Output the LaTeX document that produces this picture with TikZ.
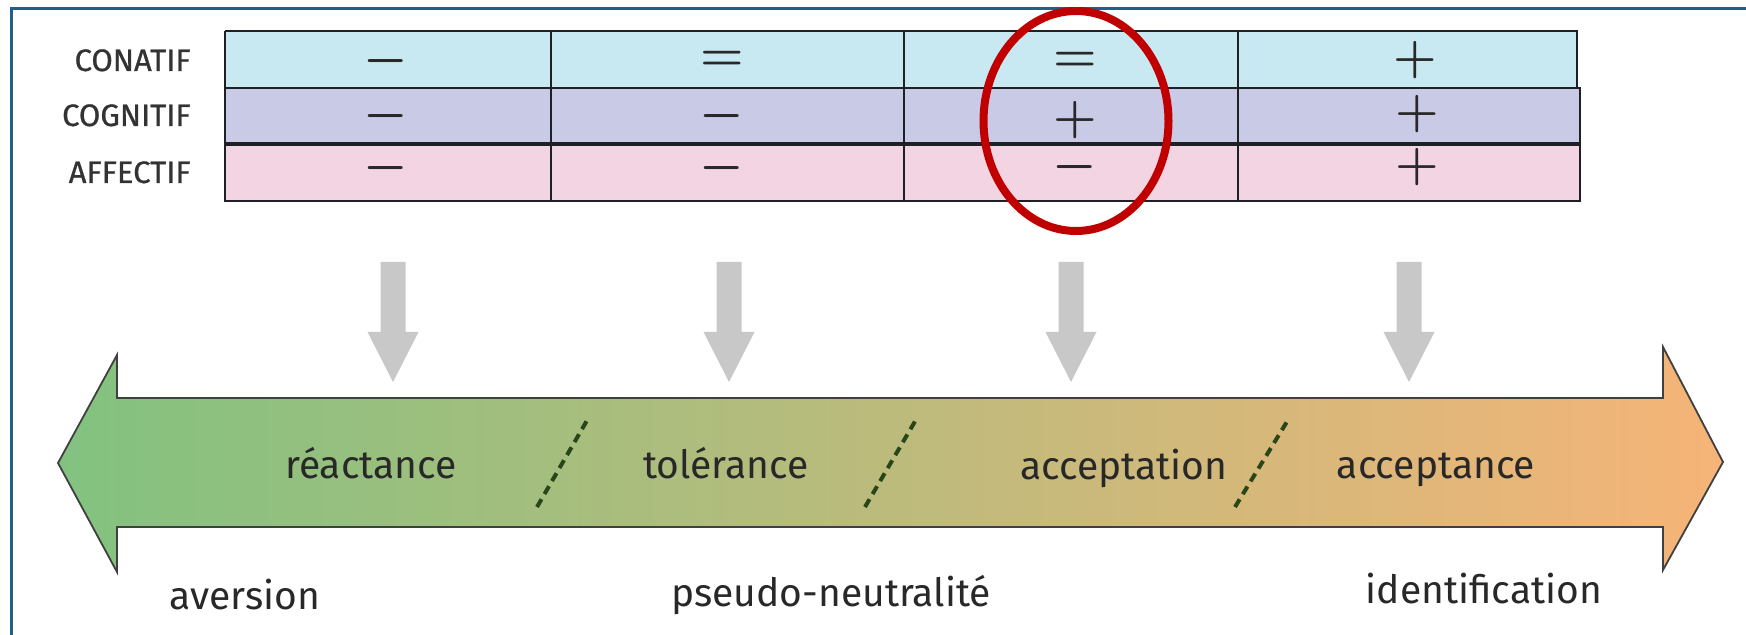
\documentclass[tikz,border=0pt]{standalone}
\usepackage{fontspec}
\setmainfont{Fira Sans}
\definecolor{frameblue}{RGB}{31,95,140}
\definecolor{rowA}{RGB}{200,232,242}
\definecolor{rowB}{RGB}{200,202,230}
\definecolor{rowC}{RGB}{242,212,226}
\definecolor{tableline}{RGB}{30,32,38}
\definecolor{arrowgray}{RGB}{200,200,200}
\definecolor{gstart}{RGB}{130,194,128}
\definecolor{gmid}{RGB}{202,196,138}
\definecolor{gend}{RGB}{246,180,120}
\definecolor{slashgreen}{RGB}{40,70,25}
\definecolor{hlred}{RGB}{192,0,0}
\definecolor{textgray}{RGB}{40,40,40}
\tikzset{
  tline/.style={draw=tableline, line width=1.1pt},
  lbl/.style={font=\fontsize{15.5}{17}\selectfont\addfontfeature{FakeBold=0.8}, text=black!80, anchor=base east, inner sep=0pt},
  sym/.style={font=\fontsize{30}{30}\selectfont\boldmath, text=textgray, inner sep=0pt},
  word/.style={font=\fontsize{19.5}{21}\selectfont, text=textgray, anchor=base, inner sep=0pt},
  slash/.style={draw=slashgreen, line width=2pt, dash pattern=on 4.5pt off 3pt},
  grayarrow/.style={fill=arrowgray},
  bigarrow/.style={draw=black!75, line width=0.9pt, left color=gstart, middle color=gmid, right color=gend},
  highlight/.style={draw=hlred, line width=4pt}
}
\begin{document}
\begin{tikzpicture}[x=0.5pt,y=-0.5pt]
\useasboundingbox (0,0) rectangle (1746,635);
\fill[white] (0,0) rectangle (1746,635);
% frame
\draw[frameblue, line width=1.5pt] (11,640) -- (11,9) -- (1750,9);
% table rows
\fill[rowA] (225,31) rectangle (1577,88);
\fill[rowB] (225,88) rectangle (1580,144);
\fill[rowC] (225,144) rectangle (1580,201);
\draw[tline] (225,31) -- (1577,31) -- (1577,88);
\draw[tline] (225,88) -- (1580,88) -- (1580,201) -- (225,201) -- cycle;
\draw[tline] (225,31) -- (225,88);
\draw[draw=tableline, line width=2.2pt] (225,144) -- (1580,144);
\foreach \cx in {551,904,1238} {\draw[tline] (\cx,31) -- (\cx,201);}
% row labels
\node[lbl] (conatif) at (191,71) {CONATIF};
\node[lbl] (cognitif) at (191,126) {COGNITIF};
\node[lbl] (affectif) at (191,183) {AFFECTIF};
% symbols
\node[sym] (a1) at (386,61) {$-$};
\node[sym] (a2) at (722,61) {$=$};
\node[sym] (a3) at (1075,62) {$=$};
\node[sym] (a4) at (1415,60) {$+$};
\node[sym] (b1) at (386,116) {$-$};
\node[sym] (b2) at (722,116) {$-$};
\node[sym] (b3) at (1075,120) {$+$};
\node[sym] (b4) at (1417,114) {$+$};
\node[sym] (c1) at (386,168) {$-$};
\node[sym] (c2) at (722,168) {$-$};
\node[sym] (c3) at (1075,167) {$-$};
\node[sym] (c4) at (1417,167) {$+$};
% highlight ellipse
\draw[highlight] (1076,121) ellipse [x radius=92.5, y radius=110];
% gray down arrows
\foreach \ax in {393,729,1071,1409} {
  \fill[grayarrow] (\ax-12.5,262) -- (\ax+12.5,262) -- (\ax+12.5,332) -- (\ax+25.5,332)
    -- (\ax,382) -- (\ax-25.5,332) -- (\ax-12.5,332) -- cycle;
}
% big double arrow
\path[bigarrow] (58,463) -- (117,355) -- (117,398) -- (1663,398) -- (1663,347) -- (1723,462)
  -- (1663,570) -- (1663,527) -- (117,527) -- (117,572) -- cycle;
% slashes
\draw[slash] (537,507) -- (589,417);
\draw[slash] (865,507) -- (917,418);
\draw[slash] (1235,507) -- (1288,420);
% words in arrow
\node[word] (reactance) at (371,479) {réactance};
\node[word] (tolerance) at (726,479) {tolérance};
\node[word] (acceptation) at (1124,480) {acceptation};
\node[word] (acceptance) at (1436,479) {acceptance};
% bottom labels
\node[word] (aversion) at (245,610) {aversion};
\node[word] (pseudo) at (831,607) {pseudo-neutralité};
\node[word] (identification) at (1484,604) {identification};
\end{tikzpicture}
\end{document}
